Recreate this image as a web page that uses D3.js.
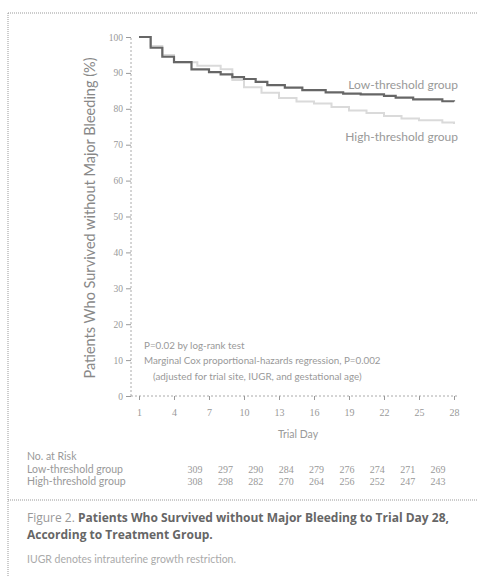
<!doctype html>
<html>
<head>
	<meta charset='utf-8'/>
	<script src="https://cdn.jsdelivr.net/npm/d3@7"></script>
	<style>
		body { margin: 0; background: #fff; }
		svg { font-family: Lato, "Open Sans", sans-serif; }
	</style>
</head>
<body>
	<div id="chart"></div>
	<script>
		// steps of the two survival curves (trial day, percent)
		var lowDays   = [1, 2, 3, 4, 5.5, 7, 8, 9, 10, 11, 12, 13.5, 15, 17, 18.5, 20, 22, 23, 24.5, 27, 28];
		var lowVals   = [100, 97, 94.5, 93, 91, 90.2, 89.6, 88.8, 88.3, 87.5, 86.6, 85.9, 85.2, 84.6, 84.2, 84.0, 83.6, 83.1, 82.6, 82.1, 82.0];
		var highDays  = [1, 2, 3, 4, 6, 8, 9, 10, 11.5, 13, 14.5, 16, 17.5, 19, 20.5, 22, 23.5, 25, 27, 28];
		var highVals  = [100, 97.5, 95, 93, 92, 91, 88, 86, 84.5, 83, 82, 81.5, 80.5, 79.5, 78.8, 78, 77.3, 76.8, 76.2, 75.8];

		var xTicks = [1, 4, 7, 10, 13, 16, 19, 22, 25, 28];
		var yTicks = [0, 10, 20, 30, 40, 50, 60, 70, 80, 90, 100];

		var riskGroups = ["Low-threshold group", "High-threshold group"];
		var riskLow  = [309, 297, 290, 284, 279, 276, 274, 271, 269];
		var riskHigh = [308, 298, 282, 270, 264, 256, 252, 247, 243];

		var width = 477, height = 577;

		var svg = d3.select("#chart").append("svg")
			.attr("width", width)
			.attr("height", height);

		// dotted frame
		svg.append("line").attr("x1", 8).attr("x2", width).attr("y1", 13).attr("y2", 13)
			.attr("stroke", "#999").attr("stroke-dasharray", "1,1");
		svg.append("line").attr("x1", 8).attr("x2", 8).attr("y1", 13).attr("y2", height)
			.attr("stroke", "#999").attr("stroke-dasharray", "1,1");
		svg.append("line").attr("x1", 8).attr("x2", width).attr("y1", 500).attr("y2", 500)
			.attr("stroke", "#999").attr("stroke-dasharray", "1,1");

		var x = d3.scaleLinear().domain([1, 28]).range([139, 454]);
		var y = d3.scaleLinear().domain([0, 100]).range([396, 37]);

		var gy = svg.append("g").attr("transform", "translate(131,0)")
			.call(d3.axisLeft(y).tickValues(yTicks).tickSize(5).tickPadding(3));
		gy.select(".domain").attr("stroke", "#aaa").attr("stroke-dasharray", "2,2")
			.attr("d", "M0," + y(0) + "V" + y(100));
		gy.selectAll(".tick line").attr("stroke", "#999");
		gy.selectAll(".tick text").attr("fill", "#999").style("font-size", "9.5px")
			.style("font-family", "'Liberation Serif', serif");

		var gx = svg.append("g").attr("transform", "translate(0,396)")
			.call(d3.axisBottom(x).tickValues(xTicks).tickSize(4).tickPadding(9));
		gx.select(".domain").attr("stroke", "#aaa").attr("stroke-dasharray", "2,2")
			.attr("d", "M131,0H458");
		gx.selectAll(".tick line").attr("stroke", "#999");
		gx.selectAll(".tick text").attr("fill", "#999").style("font-size", "10px")
			.style("font-family", "'Liberation Serif', serif");

		svg.append("text")
			.attr("transform", "translate(95,218) rotate(-90)")
			.attr("text-anchor", "middle")
			.attr("fill", "#888")
			.style("font-size", "14.5px")
			.text("Patients Who Survived without Major Bleeding (%)");

		svg.append("text").attr("x", 298).attr("y", 438).attr("text-anchor", "middle")
			.attr("fill", "#999").style("font-size", "10.5px").text("Trial Day");

		var line = d3.line()
			.x(function(d) { return x(d[0]); })
			.y(function(d) { return y(d[1]); })
			.curve(d3.curveStepAfter);

		svg.append("path")
			.datum(d3.zip(highDays, highVals))
			.attr("fill", "none").attr("stroke", "#dadada").attr("stroke-width", 2)
			.attr("d", line);
		svg.append("path")
			.datum(d3.zip(lowDays, lowVals))
			.attr("fill", "none").attr("stroke", "#666").attr("stroke-width", 2.2)
			.attr("d", line);

		svg.append("text").attr("x", 458).attr("y", 89).attr("text-anchor", "end")
			.attr("fill", "#999").style("font-size", "12px").text("Low-threshold group");
		svg.append("text").attr("x", 458).attr("y", 141).attr("text-anchor", "end")
			.attr("fill", "#999").style("font-size", "12px").text("High-threshold group");

		var notes = svg.append("g").attr("fill", "#999").style("font-size", "9.8px");
		notes.append("text").attr("x", 144).attr("y", 349).text("P=0.02 by log-rank test");
		notes.append("text").attr("x", 144).attr("y", 364).text("Marginal Cox proportional-hazards regression, P=0.002");
		notes.append("text").attr("x", 153).attr("y", 380).text("(adjusted for trial site, IUGR, and gestational age)");

		// number at risk
		var risk = svg.append("g").attr("fill", "#999").style("font-size", "10.5px");
		risk.append("text").attr("x", 27).attr("y", 460).text("No. at Risk");
		var col = d3.scalePoint().domain(d3.range(riskLow.length)).range([195, 438]);
		[riskLow, riskHigh].forEach(function(vals, r) {
			var yy = 473 + r * 12;
			risk.append("text").attr("x", 27).attr("y", yy).text(riskGroups[r]);
			risk.selectAll(null).data(vals).enter().append("text")
				.attr("x", function(d, i) { return col(i); })
				.attr("y", yy)
				.attr("text-anchor", "middle")
				.style("font-size", "10px")
				.style("font-family", "'Liberation Serif', serif")
				.text(function(d) { return d; });
		});

		// caption
		var cap = svg.append("text").attr("x", 27).attr("y", 522)
			.style("font-family", "'Open Sans', sans-serif").style("font-size", "12px");
		cap.append("tspan").attr("fill", "#999").text("Figure 2. ");
		cap.append("tspan").attr("fill", "#666").attr("font-weight", "bold")
			.text("Patients Who Survived without Major Bleeding to Trial Day 28,");
		svg.append("text").attr("x", 27).attr("y", 539)
			.style("font-family", "'Open Sans', sans-serif").style("font-size", "12px")
			.attr("fill", "#666").attr("font-weight", "bold").text("According to Treatment Group.");
		svg.append("text").attr("x", 27).attr("y", 563).style("font-size", "10.5px")
			.attr("fill", "#aaa").text("IUGR denotes intrauterine growth restriction.");
	</script>
</body>
</html>
